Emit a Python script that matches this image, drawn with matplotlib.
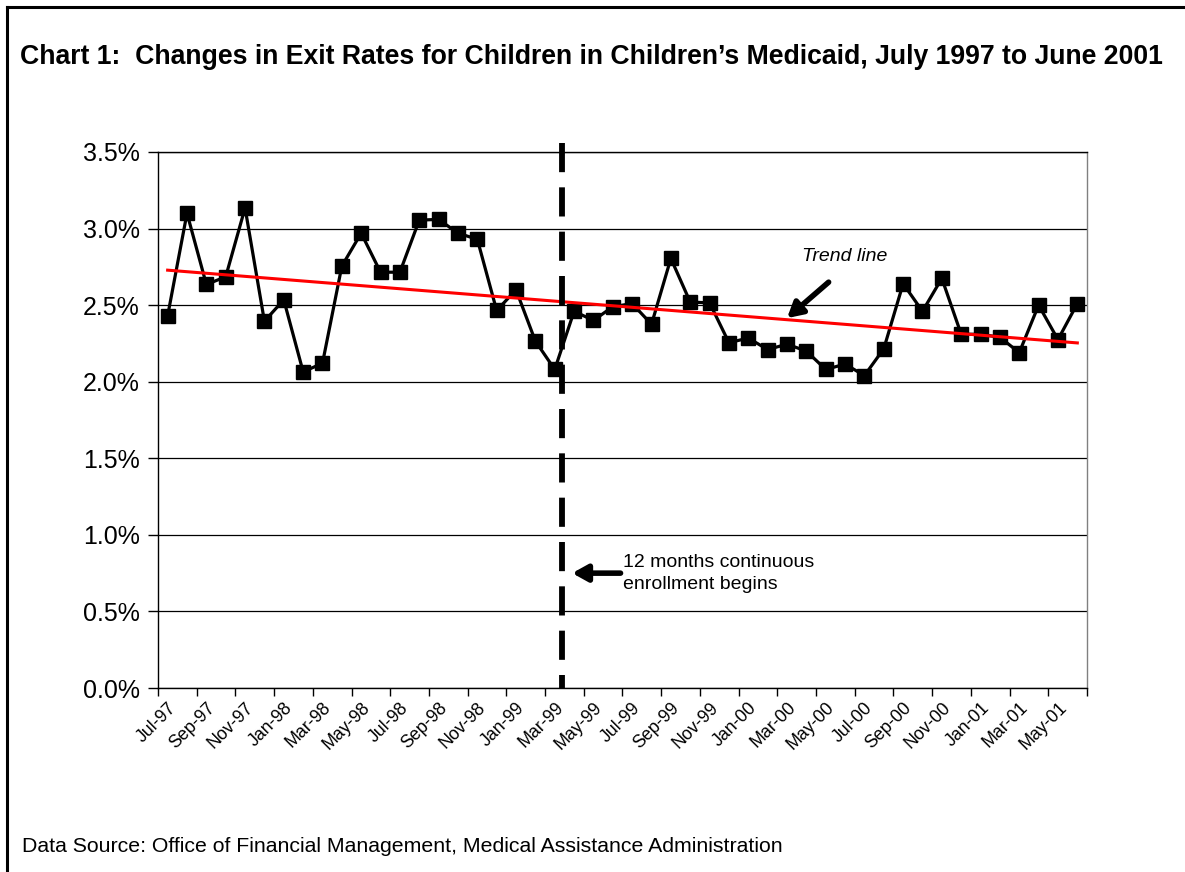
import numpy as np
import matplotlib
matplotlib.use("Agg")
import matplotlib.pyplot as plt
from matplotlib.lines import Line2D

plt.rcParams["font.family"] = ["Liberation Sans", "DejaVu Sans"]

# ---------- data ----------
months = [
    "Jul-97", "Aug-97", "Sep-97", "Oct-97", "Nov-97", "Dec-97",
    "Jan-98", "Feb-98", "Mar-98", "Apr-98", "May-98", "Jun-98",
    "Jul-98", "Aug-98", "Sep-98", "Oct-98", "Nov-98", "Dec-98",
    "Jan-99", "Feb-99", "Mar-99", "Apr-99", "May-99", "Jun-99",
    "Jul-99", "Aug-99", "Sep-99", "Oct-99", "Nov-99", "Dec-99",
    "Jan-00", "Feb-00", "Mar-00", "Apr-00", "May-00", "Jun-00",
    "Jul-00", "Aug-00", "Sep-00", "Oct-00", "Nov-00", "Dec-00",
    "Jan-01", "Feb-01", "Mar-01", "Apr-01", "May-01", "Jun-01",
]
exit_rate = [
    2.43, 3.10, 2.635, 2.685, 3.135, 2.395,
    2.535, 2.065, 2.12, 2.755, 2.97, 2.715,
    2.715, 3.055, 3.06, 2.97, 2.93, 2.465,
    2.60, 2.265, 2.08, 2.46, 2.40, 2.49,
    2.51, 2.375, 2.805, 2.52, 2.515, 2.255,
    2.285, 2.21, 2.245, 2.20, 2.08, 2.115,
    2.04, 2.215, 2.64, 2.46, 2.675, 2.31,
    2.31, 2.29, 2.19, 2.50, 2.275, 2.51,
]
yticks = [0.0, 0.5, 1.0, 1.5, 2.0, 2.5, 3.0, 3.5]

x = np.arange(len(months))
y = np.array(exit_rate)
slope, icpt = np.polyfit(x, y, 1)
trend = icpt + slope * x

# ---------- canvas ----------
fig = plt.figure(figsize=(11.85, 8.72), dpi=100)
ax = fig.add_axes([0.1333, 0.211, 0.784, 0.6147])

ax.plot(x, y, color="black", linewidth=2.3, marker="s", markersize=10,
        markerfacecolor="black", markeredgecolor="black", zorder=3)
ax.plot(x, trend, color="#ff0000", linewidth=2.2, zorder=4)

ax.set_xlim(-0.5, len(months) - 0.5)
ax.set_ylim(0, 3.5)
ax.set_yticks(yticks)
ax.set_yticklabels([f"{v:.1f}%" for v in yticks], fontsize=18)
ax.yaxis.grid(True, color="black", linewidth=0.9)
ax.set_axisbelow(True)
ax.tick_params(axis="y", length=7, width=1, pad=6)

# category ticks between every second month, labels on month centres
ax.set_xticks(np.arange(-0.5, len(months), 2))
ax.set_xticklabels([])
ax.tick_params(axis="x", which="major", length=6, width=1)
ax.set_xticks(x[::2], minor=True)
ax.set_xticklabels(months[::2], minor=True, rotation=45, ha="right",
                   rotation_mode="anchor", fontsize=12.8)
ax.tick_params(axis="x", which="minor", length=0, pad=8)

for s in ax.spines.values():
    s.set_color("black")
    s.set_linewidth(1)
ax.spines["right"].set_color("#808080")

# ---------- program change marker ----------
ax.plot([20.35, 20.35], [3.56, 0.0], color="black", linewidth=4.2,
        dashes=(5.0, 2.6), clip_on=False, zorder=5)
ax.annotate("", xy=(20.9, 0.75), xytext=(23.4, 0.75),
            arrowprops=dict(arrowstyle="-|>,head_length=0.9,head_width=0.5",
                            color="black", lw=4, shrinkA=0, shrinkB=0))
ax.text(23.55, 0.745, "12 months continuous\nenrollment begins",
        ha="left", va="center", fontsize=14, linespacing=1.38)

# ---------- trend label ----------
ax.annotate("", xy=(32.0, 2.415), xytext=(34.15, 2.65),
            arrowprops=dict(arrowstyle="-|>,head_length=0.9,head_width=0.5",
                            color="black", lw=4, shrinkA=0, shrinkB=0))
ax.text(35.0, 2.82, "Trend line", ha="center", va="center",
        fontsize=14, style="italic")

# ---------- titles / frame ----------
fig.text(0.0169, 0.9346,
         "Chart 1:  Changes in Exit Rates for Children in Children\u2019s Medicaid, July 1997 to June 2001",
         ha="left", va="center", fontsize=19.2, fontweight="bold")
fig.text(0.0186, 0.0287,
         "Data Source: Office of Financial Management, Medical Assistance Administration",
         ha="left", va="center", fontsize=15.3)

fig.add_artist(Line2D([0.006, 0.006], [0, 0.992], color="black", linewidth=2.2,
                      transform=fig.transFigure))
fig.add_artist(Line2D([0.006, 1.0], [0.992, 0.992], color="black", linewidth=2.2,
                      transform=fig.transFigure))

fig.savefig("out.png", dpi=100, facecolor="white")
